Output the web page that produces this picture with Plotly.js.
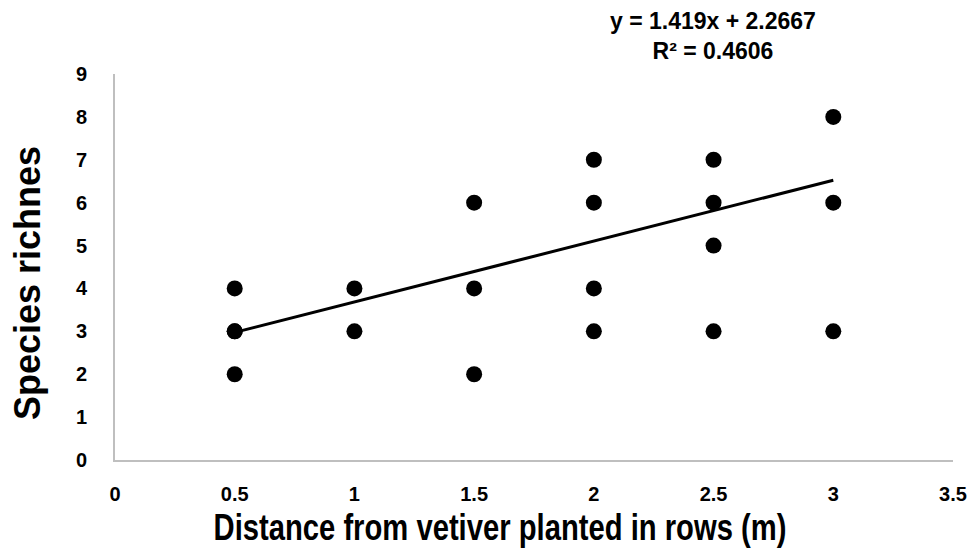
<!DOCTYPE html>
<html>
<head>
<meta charset="utf-8">
<script src="https://cdn.plot.ly/plotly-3.0.1.min.js"></script>
<style>html,body{margin:0;padding:0;background:#fff;}#chart{width:971px;height:557px;}</style>
</head>
<body>
<div id="chart"></div>
<script>
// Observed points: distance (m) and species richness
const distance = [0.5, 0.5, 0.5, 0.5, 1, 1, 1.5, 1.5, 1.5, 2, 2, 2, 2, 2.5, 2.5, 2.5, 2.5, 3, 3, 3];
const richness = [4, 3, 3, 2, 4, 3, 6, 4, 2, 7, 6, 4, 3, 7, 6, 5, 3, 8, 6, 3];
// Linear trendline (as reported on the chart)
const slope = 1.419;
const intercept = 2.2667;
const rSquared = 0.4606;
const trendX = [0.5, 3];
const trendY = trendX.map(x => slope * x + intercept);
const xTicks = [0, 0.5, 1, 1.5, 2, 2.5, 3, 3.5];
const xTickText = ['0', '0.5', '1', '1.5', '2', '2.5', '3', '3.5'];
const yTicks = [0, 1, 2, 3, 4, 5, 6, 7, 8, 9];

const tickFont = {family: 'Liberation Sans, Arial, sans-serif', size: 20, color: '#000', weight: 'bold'};

const data = [
  {x: distance, y: richness, type: 'scatter', mode: 'markers',
   marker: {color: '#000', size: 16}, hoverinfo: 'x+y', showlegend: false},
  {x: trendX, y: trendY, type: 'scatter', mode: 'lines',
   line: {color: '#000', width: 3}, showlegend: false}
];

const layout = {
  width: 971, height: 557,
  margin: {l: 115, r: 18, t: 74, b: 97},
  paper_bgcolor: '#fff', plot_bgcolor: '#fff',
  showlegend: false,
  xaxis: {
    range: [0, 3.5], tickvals: xTicks, ticktext: xTickText,
    showgrid: false, zeroline: false, showline: true, linecolor: '#bfbfbf', linewidth: 2,
    ticks: '', tickfont: tickFont, ticklabelstandoff: 15,
    title: {text: 'Distance from vetiver planted in rows (m)',
            font: {family: 'Liberation Sans, Arial, sans-serif', size: 37, color: '#000', weight: 'bold'},
            standoff: 6}
  },
  yaxis: {
    range: [0, 9], tickvals: yTicks,
    showgrid: false, zeroline: false, showline: true, linecolor: '#bfbfbf', linewidth: 2,
    ticks: '', tickfont: tickFont, ticklabelstandoff: 22,
    title: {text: 'Species richnes',
            font: {family: 'Liberation Sans, Arial, sans-serif', size: 36, color: '#000', weight: 'bold'},
            standoff: 24}
  },
  annotations: [{
    xref: 'paper', yref: 'paper', x: 0.714, y: 1.02, xanchor: 'center', yanchor: 'bottom',
    showarrow: false, align: 'center',
    text: 'y = ' + slope + 'x + ' + intercept + '<br>R² = ' + rSquared,
    font: {family: 'Liberation Sans, Arial, sans-serif', size: 23, color: '#000', weight: 'bold'}
  }]
};

Plotly.newPlot('chart', data, layout, {displayModeBar: false, staticPlot: true}).then(function () {
  // The reference's x-axis title is horizontally condensed; squeeze it to match.
  const t = document.querySelector('.g-xtitle text');
  if (t) {
    const bb = t.getBBox();
    const cx = bb.x + bb.width / 2;
    const targetWidth = 573, targetCx = 500, dy = 2;
    const s = targetWidth / bb.width;
    const prev = t.getAttribute('transform') || '';
    t.setAttribute('transform',
      'translate(' + targetCx + ',' + dy + ') scale(' + s + ',1) translate(' + (-cx) + ',0) ' + prev);
  }
  // The reference's y-axis title sits a little below the plot's middle.
  const yt = document.querySelector('.g-ytitle text');
  if (yt) {
    const prevY = yt.getAttribute('transform') || '';
    yt.setAttribute('transform', 'translate(0,16) ' + prevY);
  }
});
</script>
</body>
</html>
